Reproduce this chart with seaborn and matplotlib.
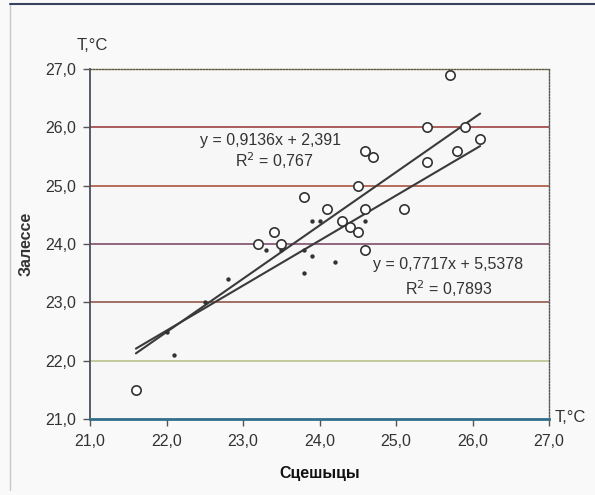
import numpy as np
import pandas as pd
import matplotlib
matplotlib.use("Agg")
import matplotlib.pyplot as plt
import seaborn as sns
from matplotlib.ticker import FuncFormatter, MultipleLocator
from matplotlib.lines import Line2D

# ---- data ----
open_x = [21.6, 23.2, 23.4, 23.5, 23.8, 24.1, 24.3, 24.4, 24.5, 24.5, 24.6,
          24.7, 24.6, 24.6, 25.1, 25.4, 25.4, 25.7, 25.8, 25.9, 26.1]
open_y = [21.5, 24.0, 24.2, 24.0, 24.8, 24.6, 24.4, 24.3, 24.2, 25.0, 25.6,
          25.5, 24.6, 23.9, 24.6, 25.4, 26.0, 26.9, 25.6, 26.0, 25.8]
dot_x = [22.0, 22.1, 22.5, 22.8, 23.3, 23.5, 23.8, 23.8, 23.9, 23.9, 24.0, 24.2, 24.6]
dot_y = [22.5, 22.1, 23.0, 23.4, 23.9, 23.9, 23.9, 23.5, 23.8, 24.4, 24.4, 23.7, 24.4]

trend1_slope, trend1_icpt = 0.9136, 2.391
trend2_slope, trend2_icpt = 0.7717, 5.5378
trend1_label = ["y = 0,9136x + 2,391", "R$^2$ = 0,767"]
trend2_label = ["y = 0,7717x + 5,5378", "R$^2$ = 0,7893"]

grid_colors = {22: "#b4bf84", 23: "#8a4a3c", 24: "#74405e", 25: "#a3452f", 26: "#963434"}

# ---- style ----
sns.set_theme(style="white")
plt.rcParams["font.family"] = ["Liberation Sans", "DejaVu Sans"]

fig = plt.figure(figsize=(5.95, 4.95), dpi=100, facecolor="#faf9f9")

# faint scan frame
fig.add_artist(Line2D([10 / 595, 10 / 595], [0.01, 1 - 4 / 495], transform=fig.transFigure,
                      color="#c8c8c8", lw=1.0))
fig.add_artist(Line2D([10 / 595, 1.0], [1 - 4 / 495, 1 - 4 / 495], transform=fig.transFigure,
                      color="#3a4260", lw=1.5))

ax = fig.add_axes([90 / 595, 1 - 419 / 495, (549 - 90) / 595, (419 - 69) / 495])
ax.set_facecolor("#f8f7f7")

ax.set_xlim(21, 27)
ax.set_ylim(21, 27)

for yv, c in grid_colors.items():
    ax.axhline(yv, color=c, lw=1.1, zorder=1)

# trend lines over the data x range
xall = np.array(open_x + dot_x)
xl = np.array([xall.min(), xall.max()])
df_l1 = pd.DataFrame({"x": xl, "y": trend1_slope * xl + trend1_icpt})
df_l2 = pd.DataFrame({"x": xl, "y": trend2_slope * xl + trend2_icpt})
sns.lineplot(data=df_l1, x="x", y="y", ax=ax, color="#3a3a3a", lw=1.5, zorder=3)
sns.lineplot(data=df_l2, x="x", y="y", ax=ax, color="#3a3a3a", lw=1.5, zorder=3)

df_o = pd.DataFrame({"x": open_x, "y": open_y})
df_d = pd.DataFrame({"x": dot_x, "y": dot_y})
sns.scatterplot(data=df_o, x="x", y="y", ax=ax, marker="o", s=45,
                facecolor="white", edgecolor="#333333", linewidth=1.2, zorder=4)
sns.scatterplot(data=df_d, x="x", y="y", ax=ax, marker="o", s=10,
                color="#333333", edgecolor="#333333", linewidth=0, zorder=5)

# spines
for side in ["top", "right"]:
    ax.spines[side].set_visible(True)
    ax.spines[side].set_linestyle((0, (1, 1.2)))
    ax.spines[side].set_linewidth(1.0)
ax.spines["top"].set_color("#5e5a3a")
ax.spines["right"].set_color("#555555")
ax.spines["left"].set_color("#4a4f5e")
ax.spines["left"].set_linewidth(1.3)
ax.spines["bottom"].set_color("#2f6f8a")
ax.spines["bottom"].set_linewidth(2.0)

ax.xaxis.set_major_locator(MultipleLocator(1))
ax.yaxis.set_major_locator(MultipleLocator(1))
fmt = FuncFormatter(lambda v, p: f"{v:.1f}".replace(".", ","))
ax.xaxis.set_major_formatter(fmt)
ax.yaxis.set_major_formatter(fmt)
ax.tick_params(axis="both", which="major", direction="out", length=5, width=1,
               color="#555555", labelsize=11.5, labelcolor="#333333", pad=5,
               bottom=True, left=True)
ax.tick_params(axis="x", pad=6)

ax.set_xlabel("Сцешыцы", fontsize=11.5, fontweight="bold", color="#111111", labelpad=12)
ax.set_ylabel("Залессе", fontsize=11.5, fontweight="bold", color="#333333", labelpad=8)

# unit labels
fig.text(77 / 595, 1 - 46 / 495, "T,°C", fontsize=12, color="#333333",
         ha="left", va="center")
fig.text(555 / 595, 1 - 418 / 495, "T,°C", fontsize=12, color="#333333",
         ha="left", va="center")

# trendline equations
fig.text(270 / 595, 1 - 140 / 495, trend1_label[0], fontsize=11.5, color="#333333",
         ha="center", va="center")
fig.text(274 / 595, 1 - 161 / 495, trend1_label[1], fontsize=11.5, color="#333333",
         ha="center", va="center")
fig.text(448 / 595, 1 - 265 / 495, trend2_label[0], fontsize=11.5, color="#333333",
         ha="center", va="center")
fig.text(449 / 595, 1 - 289 / 495, trend2_label[1], fontsize=11.5, color="#333333",
         ha="center", va="center")

fig.savefig("out.png", dpi=100, facecolor=fig.get_facecolor())
